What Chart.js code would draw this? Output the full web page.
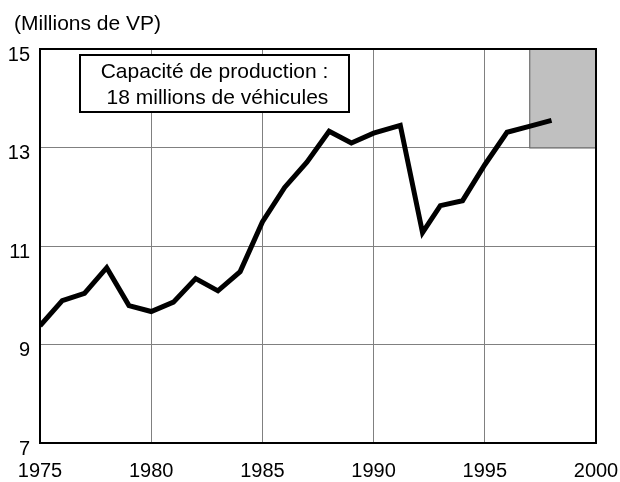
<!DOCTYPE html>
<html>
<head>
<meta charset="utf-8">
<script src="https://cdn.jsdelivr.net/npm/chart.js@4/dist/chart.umd.min.js"></script>
<style>
  html, body { margin: 0; padding: 0; background: #fff; }
  #wrap { width: 620px; height: 482px; }
</style>
</head>
<body>
<div id="wrap"><canvas id="chart-area" width="620" height="482"></canvas></div>
<script>
// production de VP, en millions
var years = [1975, 1976, 1977, 1978, 1979, 1980, 1981, 1982, 1983, 1984, 1985, 1986,
             1987, 1988, 1989, 1990, 1991.2, 1992.2, 1993, 1994, 1995, 1996, 1997, 1998];
var production = [9.38, 9.89, 10.04, 10.56, 9.79, 9.67, 9.86, 10.34, 10.09, 10.48, 11.49, 12.19,
                  12.7, 13.33, 13.09, 13.29, 13.45, 11.27, 11.82, 11.92, 12.65, 13.31, 13.43, 13.55];
var capacityBox = [1997, 2000, 13, 15]; // x0, x1, y0, y1
var boxLines = ['Capacité de production :', ' 18 millions de véhicules'];
var unitLabel = '(Millions de VP)';

var FONT = 'Liberation Sans, Arial, sans-serif';

var decor = {
  id: 'decor',
  beforeDatasetsDraw: function(chart) {
    var ctx = chart.ctx, x = chart.scales.x, y = chart.scales.y;
    var x0 = x.getPixelForValue(capacityBox[0]), x1 = x.getPixelForValue(capacityBox[1]);
    var y0 = y.getPixelForValue(capacityBox[3]), y1 = y.getPixelForValue(capacityBox[2]);
    ctx.save();
    ctx.fillStyle = '#c0c0c0';
    ctx.fillRect(x0, y0, x1 - x0, y1 - y0);
    ctx.strokeStyle = '#606060';
    ctx.lineWidth = 1;
    ctx.strokeRect(x0 + 0.5, y0, x1 - x0, y1 - y0 + 0.5);
    ctx.restore();
  },
  afterDraw: function(chart) {
    var ctx = chart.ctx, a = chart.chartArea;
    ctx.save();
    // cadre
    ctx.strokeStyle = '#000';
    ctx.lineWidth = 2;
    ctx.strokeRect(a.left, a.top, a.right - a.left, a.bottom - a.top);
    // unité
    ctx.fillStyle = '#000';
    ctx.font = '21px ' + FONT;
    ctx.textBaseline = 'middle';
    ctx.textAlign = 'left';
    ctx.fillText(unitLabel, 14, 24);
    // encadré
    var bx = 80, by = 55, bw = 269, bh = 57;
    ctx.fillStyle = '#fff';
    ctx.fillRect(bx, by, bw, bh);
    ctx.lineWidth = 2;
    ctx.strokeRect(bx, by, bw, bh);
    ctx.fillStyle = '#000';
    ctx.font = '21px ' + FONT;
    ctx.textAlign = 'center';
    ctx.fillText(boxLines[0], bx + bw / 2, by + 17);
    ctx.fillText(boxLines[1], bx + bw / 2, by + 43);
    ctx.restore();
  }
};

var points = [];
for (let i = 0; i < years.length; i++) {
  points.push({ x: years[i], y: production[i] });
}

var config = {
  type: 'line',
  data: {
    datasets: [{
      data: points,
      borderColor: '#000',
      borderWidth: 5,
      pointRadius: 0,
      tension: 0,
      fill: false
    }]
  },
  options: {
    responsive: false,
    animation: false,
    layout: { padding: { left: 0, right: 0, top: 49, bottom: 0 } },
    plugins: {
      legend: { display: false },
      tooltip: { enabled: false }
    },
    scales: {
      x: {
        type: 'linear',
        min: 1975,
        max: 2000,
        afterFit: function(s) {
          s.height = 39;
          s.paddingLeft = 0;
          s.paddingRight = 24;
        },
        ticks: {
          stepSize: 5,
          color: '#000',
          font: { family: FONT, size: 20 },
          padding: 16,
          maxRotation: 0,
          callback: function(v) { return String(v); }
        },
        grid: { color: '#808080', lineWidth: 1, drawTicks: false },
        border: { display: false }
      },
      y: {
        min: 7,
        max: 15,
        afterFit: function(s) {
          s.width = 40;
          s.paddingTop = 0;
          s.paddingBottom = 0;
        },
        ticks: {
          stepSize: 2,
          color: '#000',
          font: { family: FONT, size: 20 },
          padding: 10,
          labelOffset: 6
        },
        grid: { color: '#808080', lineWidth: 1, drawTicks: false },
        border: { display: false }
      }
    }
  },
  plugins: [decor]
};

var ctx = document.getElementById('chart-area').getContext('2d');
window.myLine = new Chart(ctx, config);
</script>
</body>
</html>
